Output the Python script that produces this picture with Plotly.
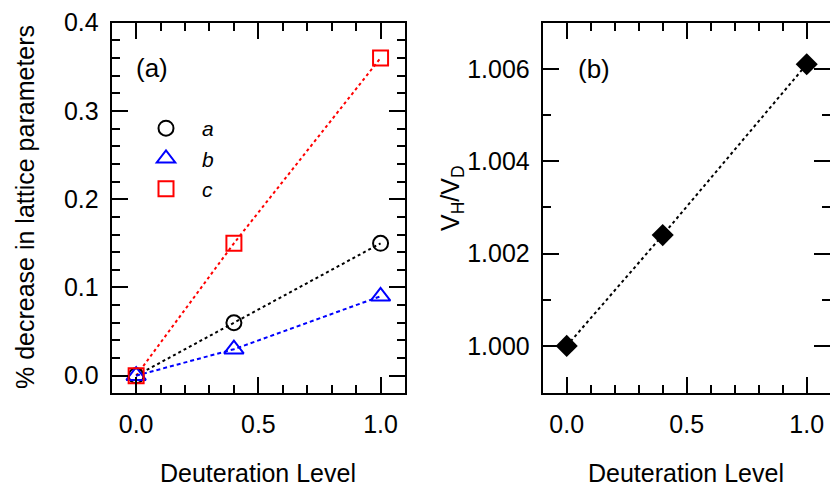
import plotly.graph_objects as go

# Data
deut = [0.0, 0.4, 1.0]
a_vals = [0.0, 0.06, 0.15]
b_vals = [0.0, 0.03, 0.09]
c_vals = [0.0, 0.15, 0.36]
vh_vd = [1.0000, 1.0024, 1.0061]

W, H = 830, 485
FONT = "Liberation Sans, Arial, sans-serif"
FS = 25

fig = go.Figure()

fig.add_trace(go.Scatter(x=deut, y=c_vals, mode="lines", line=dict(color="red", width=2, dash="dot"),
                         showlegend=False, xaxis="x", yaxis="y"))
fig.add_trace(go.Scatter(x=deut, y=a_vals, mode="lines", line=dict(color="black", width=2, dash="dot"),
                         showlegend=False, xaxis="x", yaxis="y"))
fig.add_trace(go.Scatter(x=deut, y=b_vals, mode="lines", line=dict(color="blue", width=2, dash="4px,3px"),
                         showlegend=False, xaxis="x", yaxis="y"))

fig.add_trace(go.Scatter(x=deut, y=a_vals, mode="markers", name="a",
                         marker=dict(symbol="circle-open", size=15, color="black", line=dict(width=2)),
                         xaxis="x", yaxis="y"))
fig.add_trace(go.Scatter(x=deut, y=b_vals, mode="markers", name="b",
                         marker=dict(symbol="triangle-up-open", size=17, color="blue", line=dict(width=2)),
                         xaxis="x", yaxis="y"))
fig.add_trace(go.Scatter(x=deut, y=c_vals, mode="markers", name="c",
                         marker=dict(symbol="square-open", size=15, color="red", line=dict(width=2)),
                         xaxis="x", yaxis="y"))

fig.add_trace(go.Scatter(x=deut, y=vh_vd, mode="lines+markers", showlegend=False,
                         line=dict(color="black", width=2, dash="dot"),
                         marker=dict(symbol="diamond", size=17, color="black"),
                         xaxis="x2", yaxis="y2"))

axis_common = dict(
    showline=True, linewidth=2, linecolor="black", mirror="allticks",
    ticks="inside", ticklen=16, tickwidth=2, tickcolor="black",
    showgrid=False, zeroline=False, automargin=False,
    tickfont=dict(family=FONT, size=FS, color="black"),
)

def ann(text, x, y, size=FS, angle=0):
    return dict(text=text, x=x / W, y=1 - y / H, xref="paper", yref="paper",
                xanchor="center", yanchor="middle", showarrow=False, textangle=angle,
                font=dict(family=FONT, size=size, color="black"))

fig.update_layout(
    width=W, height=H,
    margin=dict(l=0, r=0, t=0, b=0),
    paper_bgcolor="white", plot_bgcolor="white",
    xaxis=dict(domain=[111.7 / W, 405 / W], range=[-0.1, 1.1], anchor="y",
               tickvals=[0, 0.5, 1.0], ticktext=["0.0", "0.5", "1.0"],
               minor=dict(dtick=0.1, tick0=0, ticks="inside", ticklen=8, tickwidth=2, tickcolor="black"),
               ticklabelstandoff=8, **axis_common),
    yaxis=dict(domain=[1 - 393 / H, 1 - 22.7 / H], range=[-0.0196, 0.4], anchor="x",
               tickvals=[0, 0.1, 0.2, 0.3, 0.4], ticktext=["0.0", "0.1", "0.2", "0.3", "0.4"],
               minor=dict(dtick=0.02, tick0=0, ticks="inside", ticklen=8, tickwidth=2, tickcolor="black"),
               ticklabelstandoff=6, **axis_common),
    xaxis2=dict(domain=[542.7 / W, 1.0], range=[-0.1, 1.097], anchor="y2",
                tickvals=[0, 0.5, 1.0], ticktext=["0.0", "0.5", "1.0"],
                minor=dict(dtick=0.1, tick0=0, ticks="inside", ticklen=8, tickwidth=2, tickcolor="black"),
                ticklabelstandoff=8, **axis_common),
    yaxis2=dict(domain=[1 - 393 / H, 1 - 22.7 / H], range=[0.99898, 1.007], anchor="x2",
                tickvals=[1.000, 1.002, 1.004, 1.006], ticktext=["1.000", "1.002", "1.004", "1.006"],
                minor=dict(dtick=0.001, tick0=1.0, ticks="inside", ticklen=8, tickwidth=2, tickcolor="black"),
                ticklabelstandoff=6, **axis_common),
    legend=dict(x=130 / W, y=1 - 108 / H, xanchor="left", yanchor="top",
                bgcolor="rgba(0,0,0,0)", itemwidth=62, tracegroupgap=0,
                font=dict(family=FONT, size=21, color="black", style="italic")),
    annotations=[
        ann("Deuteration Level", 258, 473),
        ann("Deuteration Level", 686, 473),
        ann("% decrease in lattice parameters", 25, 207, angle=-90),
        ann("V<sub>H</sub>/V<sub>D</sub>", 452, 198, angle=-90),
        ann("(a)", 152, 68, size=26),
        ann("(b)", 594, 69, size=26),
    ],
)

fig.write_html("out.html")
